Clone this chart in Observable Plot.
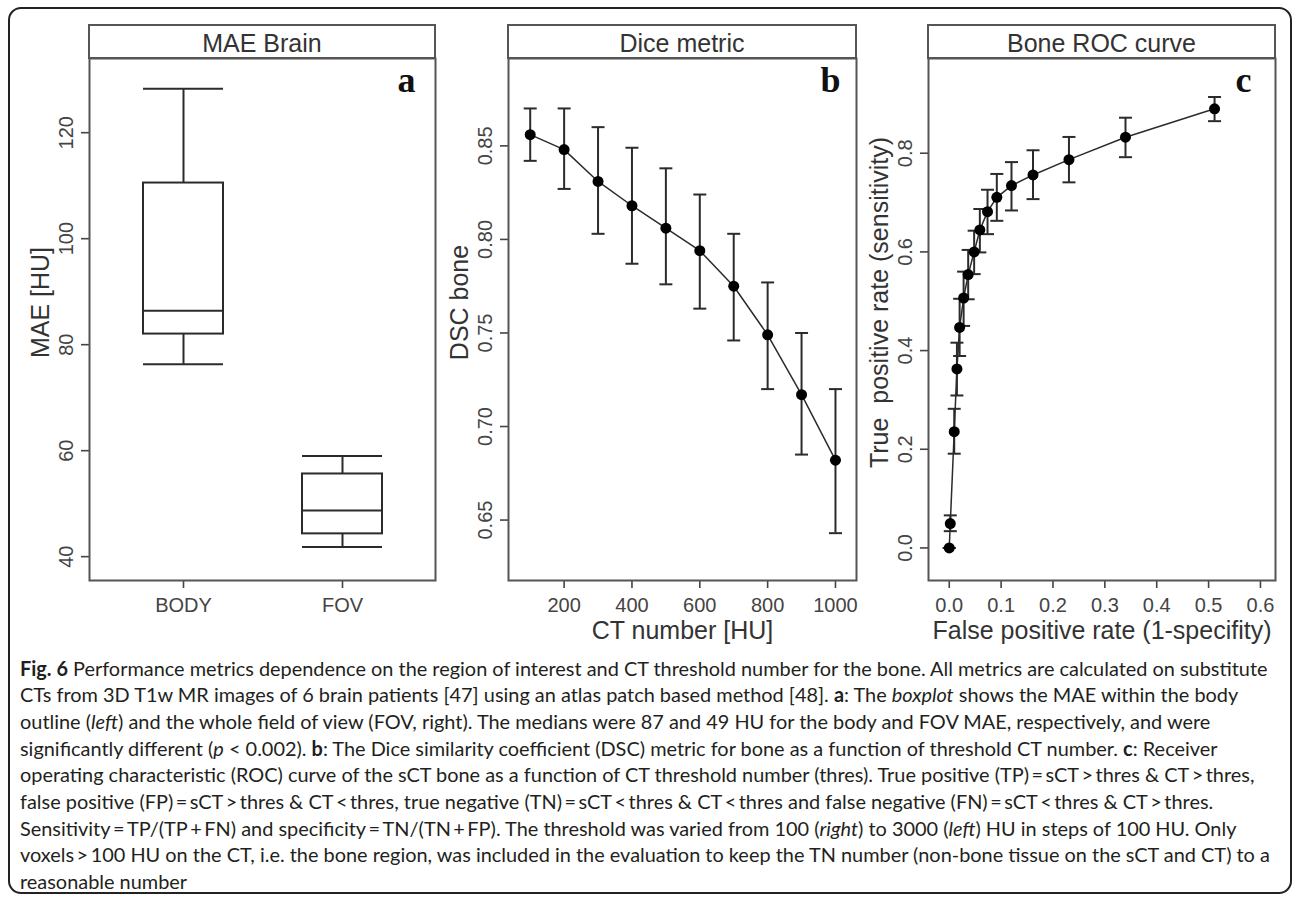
<!DOCTYPE html>
<html>
<head>
<meta charset="utf-8">
<script src="https://cdn.jsdelivr.net/npm/d3@7"></script>
<script src="https://cdn.jsdelivr.net/npm/@observablehq/plot@0.6"></script>
<style>
  body { margin: 0; background: #fff; }
  #page { position: relative; width: 1293px; height: 898px; overflow: hidden; background: #fff; }
  #border { position: absolute; left: 8px; top: 7px; width: 1284px; height: 887px; box-sizing: border-box; border: 2px solid #222; border-radius: 13px; }
  .panel { position: absolute; top: 0; }
  .panel svg { display: block; }
  .panel svg g[aria-label*="axis"] line, .panel svg g[aria-label*="axis"] path { stroke-width: 1.6px; }
  .strip { position: absolute; top: 24px; height: 35px; box-sizing: border-box; border: 2px solid #555; text-align: center;
           font-family: "Liberation Sans", Arial, sans-serif; font-size: 25px; line-height: 35px; color: #333; background: #fff; }
  .capline { position: absolute; left: 20px; white-space: nowrap; font-family: "Liberation Sans Narrow", "Arial Narrow", Lato, sans-serif; color: #231f20; }
</style>
</head>
<body>
<div id="page"><div id="border"></div></div>
<script>
// ---------- Data ----------
// Panel a: MAE Brain boxplot
const boxGroups = ["BODY", "FOV"];
const boxLow = [76.3, 41.8];
const boxQ1 = [82.0, 44.3];
const boxMedian = [86.4, 48.7];
const boxQ3 = [110.5, 55.6];
const boxHigh = [128.3, 59.0];
const maeTicks = [40, 60, 80, 100, 120];

// Panel b: Dice metric
const ctThreshold = [100, 200, 300, 400, 500, 600, 700, 800, 900, 1000];
const dscMean = [0.856, 0.848, 0.831, 0.818, 0.806, 0.794, 0.775, 0.749, 0.717, 0.682];
const dscUpper = [0.870, 0.870, 0.860, 0.849, 0.838, 0.824, 0.803, 0.777, 0.750, 0.720];
const dscLower = [0.842, 0.827, 0.803, 0.787, 0.776, 0.763, 0.746, 0.720, 0.685, 0.643];
const ctTicks = [200, 400, 600, 800, 1000];
const dscTicks = [0.65, 0.70, 0.75, 0.80, 0.85];

// Panel c: Bone ROC curve
const fpr = [0, 0.002, 0.0096, 0.0148, 0.020, 0.0277, 0.0365, 0.048, 0.059, 0.0738, 0.0917, 0.120, 0.1615, 0.2308, 0.3398, 0.5115];
const tpr = [0, 0.0495, 0.2357, 0.3628, 0.447, 0.5066, 0.554, 0.600, 0.6445, 0.6816, 0.7107, 0.7344, 0.756, 0.787, 0.8325, 0.890];
const tprLower = [0, 0.034, 0.191, 0.309, 0.389, 0.450, 0.504, 0.555, 0.599, 0.636, 0.663, 0.684, 0.707, 0.741, 0.792, 0.865];
const tprUpper = [0, 0.066, 0.282, 0.416, 0.505, 0.560, 0.604, 0.643, 0.687, 0.726, 0.758, 0.782, 0.806, 0.833, 0.872, 0.914];
const fprTicks = [0, 0.1, 0.2, 0.3, 0.4, 0.5, 0.6];
const tprTicks = [0, 0.2, 0.4, 0.6, 0.8];

// Caption
const captionLines = [
  [["b", "Fig. 6"], ["n", " Performance metrics dependence on the region of interest and CT threshold number for the bone. All metrics are calculated on substitute"]],
  [["n", "CTs from 3D T1w MR images of 6 brain patients [47] using an atlas patch based method [48]. "], ["b", "a"], ["n", ": The "], ["i", "boxplot"], ["n", " shows the MAE within the body"]],
  [["n", "outline ("], ["i", "left"], ["n", ") and the whole field of view (FOV, right). The medians were 87 and 49 HU for the body and FOV MAE, respectively, and were"]],
  [["n", "significantly different ("], ["i", "p"], ["n", " < 0.002). "], ["b", "b"], ["n", ": The Dice similarity coefficient (DSC) metric for bone as a function of threshold CT number. "], ["b", "c"], ["n", ": Receiver"]],
  [["n", "operating characteristic (ROC) curve of the sCT bone as a function of CT threshold number (thres). True positive (TP)\u2009=\u2009sCT\u2009>\u2009thres & CT\u2009>\u2009thres,"]],
  [["n", "false positive (FP)\u2009=\u2009sCT\u2009>\u2009thres & CT\u2009<\u2009thres, true negative (TN)\u2009=\u2009sCT\u2009<\u2009thres & CT\u2009<\u2009thres and false negative (FN)\u2009=\u2009sCT\u2009<\u2009thres & CT\u2009>\u2009thres."]],
  [["n", "Sensitivity\u2009=\u2009TP/(TP\u2009+\u2009FN) and specificity\u2009=\u2009TN/(TN\u2009+\u2009FP). The threshold was varied from 100 ("], ["i", "right"], ["n", ") to 3000 ("], ["i", "left"], ["n", ") HU in steps of 100 HU. Only"]],
  [["n", "voxels\u2009>\u2009100 HU on the CT, i.e. the bone region, was included in the evaluation to keep the TN number (non-bone tissue on the sCT and CT) to a"]],
  [["n", "reasonable number"]]
];

// ---------- Layout helpers ----------
const INK = "#2b2b2b";
const FRAME = "#555";
const PANEL_H = 650, FRAME_TOP = 58, FRAME_BOTTOM = 580;
const TICK_FS = 20, TITLE_FS = 25;
const page = document.getElementById("page");

const capSymbol = { draw(ctx) { ctx.moveTo(-6.5, 0); ctx.lineTo(6.5, 0); } };

function yTickLabels(ticks, fmt) {
  return Plot.text(ticks, { y: d => d, text: d => fmt(d), frameAnchor: "left", dx: -23, rotate: -90,
    textAnchor: "middle", lineAnchor: "middle", fontSize: TICK_FS, fill: "#444" });
}
function yTitle(t) {
  return Plot.text([t], { text: d => d, frameAnchor: "left", dx: -49, dy: -17, rotate: -90,
    textAnchor: "middle", lineAnchor: "middle", fontSize: TITLE_FS, fill: "#333" });
}
function xTitle(t) {
  return Plot.text([t], { text: d => d, frameAnchor: "bottom", dy: 50, textAnchor: "middle", lineAnchor: "middle",
    fontSize: TITLE_FS, fill: "#333" });
}
function letter(t, dx) {
  return Plot.text([t], { text: d => d, frameAnchor: "top-right", dx, dy: 22, textAnchor: "end", lineAnchor: "middle", fontSize: 36,
    fontWeight: "bold", fontFamily: "'Liberation Serif', 'DejaVu Serif', serif", fill: "#111" });
}

function addPanel(left, width, frameL, frameR, title, opts) {
  const wrap = document.createElement("div");
  wrap.className = "panel";
  wrap.style.left = left + "px";
  wrap.style.width = width + "px";
  const svg = Plot.plot({
    width, height: PANEL_H,
    marginTop: FRAME_TOP, marginBottom: PANEL_H - FRAME_BOTTOM,
    marginLeft: frameL - left, marginRight: left + width - frameR,
    style: { background: "transparent", fontFamily: "'Liberation Sans', Arial, sans-serif", fontSize: TICK_FS + "px", color: "#444", overflow: "visible" },
    ...opts
  });
  wrap.appendChild(svg);
  const strip = document.createElement("div");
  strip.className = "strip";
  strip.style.left = (frameL - left - 1) + "px";
  strip.style.width = (frameR - frameL + 2) + "px";
  strip.textContent = title;
  wrap.appendChild(strip);
  page.appendChild(wrap);
}

// ---------- Panel a ----------
const boxData = boxGroups.map((g, i) => ({ g, lo: boxLow[i], q1: boxQ1[i], med: boxMedian[i], q3: boxQ3[i], hi: boxHigh[i] }));
addPanel(0, 440, 89, 435, "MAE Brain", {
  x: { type: "band", domain: boxGroups, paddingInner: 0.5, paddingOuter: 0.338, tickSize: 8, tickPadding: 9, label: null },
  y: { domain: [35.5, 134], ticks: maeTicks, tickSize: 8, tickFormat: () => "", label: null },
  marks: [
    Plot.ruleX(boxData, { x: "g", y1: "q3", y2: "hi", stroke: INK, strokeWidth: 2 }),
    Plot.ruleX(boxData, { x: "g", y1: "lo", y2: "q1", stroke: INK, strokeWidth: 2 }),
    Plot.barY(boxData, { x: "g", y1: "q1", y2: "q3", fill: "white", stroke: INK, strokeWidth: 2 }),
    Plot.tickY(boxData, { x: "g", y: "med", stroke: INK, strokeWidth: 2 }),
    Plot.tickY(boxData, { x: "g", y: "lo", stroke: INK, strokeWidth: 2 }),
    Plot.tickY(boxData, { x: "g", y: "hi", stroke: INK, strokeWidth: 2 }),
    Plot.frame({ stroke: FRAME, strokeWidth: 2 }),
    yTickLabels(maeTicks, d3.format("d")),
    yTitle("MAE [HU]"),
    letter("a", -20)
  ]
});

// ---------- Panel b ----------
const dscData = ctThreshold.map((t, i) => ({ t, m: dscMean[i], lo: dscLower[i], hi: dscUpper[i] }));
addPanel(440, 430, 508, 856, "Dice metric", {
  x: { domain: [36, 1062], ticks: ctTicks, tickSize: 8, tickPadding: 9, tickFormat: d3.format("d"), label: null },
  y: { domain: [0.6177, 0.8967], ticks: dscTicks, tickSize: 8, tickFormat: () => "", label: null },
  marks: [
    Plot.line(dscData, { x: "t", y: "m", stroke: INK, strokeWidth: 1.5 }),
    Plot.ruleX(dscData, { x: "t", y1: "lo", y2: "hi", stroke: INK, strokeWidth: 2 }),
    Plot.dot(dscData, { x: "t", y: "lo", symbol: capSymbol, fill: "none", stroke: INK, strokeWidth: 2 }),
    Plot.dot(dscData, { x: "t", y: "hi", symbol: capSymbol, fill: "none", stroke: INK, strokeWidth: 2 }),
    Plot.dot(dscData, { x: "t", y: "m", r: 5.5, fill: "#000", stroke: "none" }),
    Plot.frame({ stroke: FRAME, strokeWidth: 2 }),
    yTickLabels(dscTicks, d3.format(".2f")),
    yTitle("DSC bone"),
    xTitle("CT number [HU]"),
    letter("b", -16)
  ]
});

// ---------- Panel c ----------
const rocData = fpr.map((f, i) => ({ f, t: tpr[i], lo: tprLower[i], hi: tprUpper[i] }));
addPanel(870, 423, 928, 1275, "Bone ROC curve", {
  x: { domain: [-0.04, 0.629], ticks: fprTicks, tickSize: 8, tickPadding: 9, tickFormat: d3.format(".1f"), label: null },
  y: { domain: [-0.066, 0.992], ticks: tprTicks, tickSize: 8, tickFormat: () => "", label: null },
  marks: [
    Plot.line(rocData, { x: "f", y: "t", stroke: INK, strokeWidth: 1.5 }),
    Plot.ruleX(rocData, { x: "f", y1: "lo", y2: "hi", stroke: INK, strokeWidth: 2 }),
    Plot.dot(rocData, { x: "f", y: "lo", symbol: capSymbol, fill: "none", stroke: INK, strokeWidth: 2 }),
    Plot.dot(rocData, { x: "f", y: "hi", symbol: capSymbol, fill: "none", stroke: INK, strokeWidth: 2 }),
    Plot.dot(rocData, { x: "f", y: "t", r: 5.5, fill: "#000", stroke: "none" }),
    Plot.frame({ stroke: FRAME, strokeWidth: 2 }),
    yTickLabels(tprTicks, d3.format(".1f")),
    yTitle("True  positive rate (sensitivity)"),
    xTitle("False positive rate (1-specifity)"),
    letter("c", -24)
  ]
});

// ---------- Caption ----------
const CAP_TOP = 654.7, CAP_PITCH = 26.67, CAP_W = 1248;
const capEls = captionLines.map((segs, li) => {
  const div = document.createElement("div");
  div.className = "capline";
  div.style.top = (CAP_TOP + li * CAP_PITCH) + "px";
  div.style.lineHeight = CAP_PITCH + "px";
  div.style.fontSize = "20px";
  segs.forEach(([k, s]) => {
    const sp = document.createElement("span");
    sp.textContent = s;
    if (k === "b") sp.style.fontWeight = "bold";
    if (k === "i") sp.style.fontStyle = "italic";
    div.appendChild(sp);
  });
  page.appendChild(div);
  return div;
});
const w0 = capEls[0].getBoundingClientRect().width;
const fs = 20 * CAP_W / w0;
capEls.forEach(d => d.style.fontSize = fs + "px");
</script>
</body>
</html>
